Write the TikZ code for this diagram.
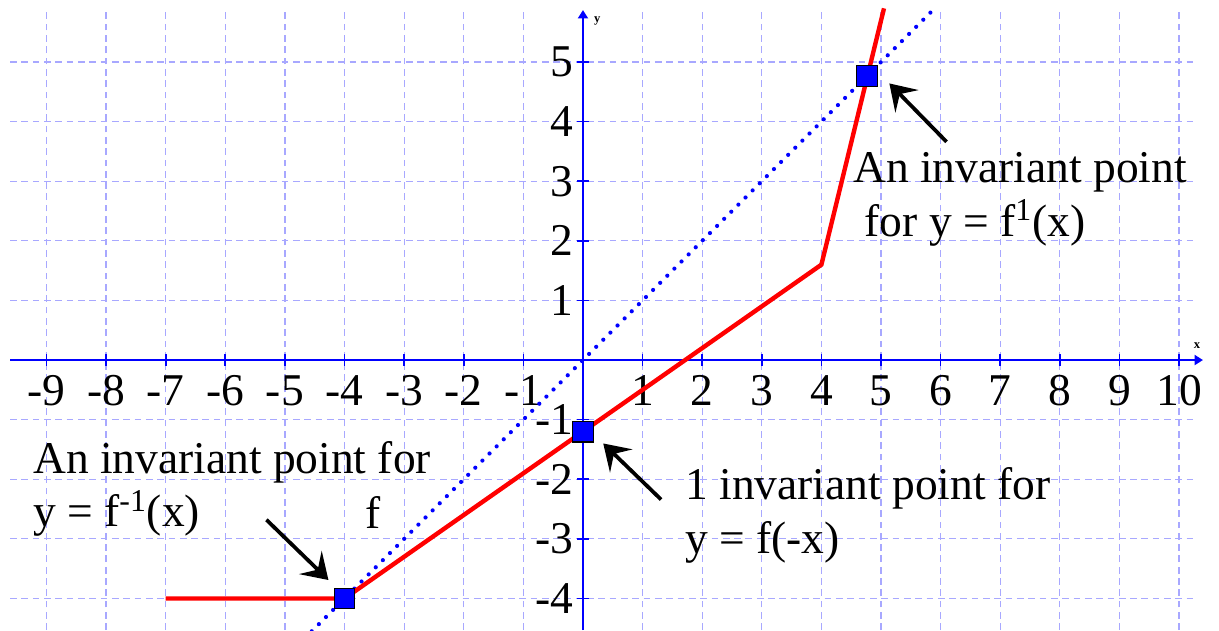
\documentclass[tikz,border=0pt]{standalone}
\usepackage{fontspec}
\setmainfont{Liberation Serif}
\usetikzlibrary{arrows.meta, positioning, calc}
\definecolor{gridblue}{RGB}{168,168,255}

\begin{document}
\begin{tikzpicture}[>=Stealth,
  gridline/.style={draw=gridblue, line width=0.6pt, dash pattern=on 3.2pt off 2.2pt},
  axis/.style={blue, line width=0.8pt, -{Triangle[length=0.14cm, width=0.17cm]}},
  tickmark/.style={blue, line width=0.8pt},
  graph/.style={red, line width=2.1pt},
  mirror/.style={blue, line width=2pt, line cap=round, dash pattern=on 0pt off 4.8pt},
  invpt/.style={draw=black, fill=blue, rectangle, minimum size=0.35cm, inner sep=0pt, line width=0.5pt},
  pointer/.style={line width=1.8pt, -{Stealth[length=0.42cm, width=0.54cm, inset=0.17cm]}},
  numlbl/.style={font=\fontsize{21.7}{25.4}\selectfont, inner sep=0pt},
  txt/.style={font=\fontsize{21.7}{25.4}\selectfont, inner sep=0pt, align=left, anchor=base west},
  axlbl/.style={font=\fontsize{6}{7}\selectfont\bfseries, inner sep=0pt}]

  \useasboundingbox (-9.78,-4.53) rectangle (10.67,6.04);

  \foreach \x in {-9,...,10}
    \draw[gridline] (\x,-4.53) -- (\x,5.87);
  \foreach \y in {-4,...,5}
    \draw[gridline] (-9.61,\y) -- (10.3,\y);

  \coordinate (xs) at (-9.61,0);
  \coordinate (xe) at (10.4,0);
  \coordinate (ys) at (0,-4.53);
  \coordinate (ye) at (0,5.87);
  \draw[axis] (xs) -- (xe);
  \draw[axis] (ys) -- (ye);
  \node[axlbl] (xname) at (10.3,0.25) {x};
  \node[axlbl] (yname) at (0.24,5.68) {y};

  \foreach \x in {-9,...,10}{
    \ifnum\x=0\else
      \draw[tickmark] (\x,-0.1) -- (\x,0.1);
      \node[numlbl, anchor=base] (xl\x) at (\x,-0.755) {\x};
    \fi}
  \foreach \y in {-4,...,5}{
    \ifnum\y=0\else
      \draw[tickmark] (-0.1,\y) -- (0.1,\y);
      \node[numlbl, anchor=east] (yl\y) at (-0.15,\y) {\y};
    \fi}

  \draw[mirror] (-4.55,-4.55) -- (5.88,5.88);
  \draw[graph] (-7,-4) -- (-4,-4) -- (4,1.6) -- (5.05,5.9);

  \node[invpt] (pa) at (4.77,4.77) {};
  \node[invpt] (pb) at (0,-1.2) {};
  \node[invpt] (pc) at (-4,-4) {};

  \coordinate (ta) at (6.10,3.66);
  \coordinate (ha) at (5.14,4.64);
  \coordinate (tb) at (1.31,-2.34);
  \coordinate (hb) at (0.34,-1.40);
  \coordinate (tc) at (-5.31,-2.68);
  \coordinate (hc) at (-4.27,-3.69);
  \draw[pointer] (ta) -- (ha);
  \draw[pointer] (tb) -- (hb);
  \draw[pointer] (tc) -- (hc);

  \node[txt] (inva) at (4.53,2.08) {An invariant point\\\ for y = f\textsuperscript{1}(x)};
  \node[txt] (invb) at (1.71,-3.24) {1 invariant point for\\y = f(-x)};
  \node[txt] (invc) at (-9.23,-2.80) {An invariant point for\\y = f\textsuperscript{-1}(x)};
  \node[txt] (fname) at (-3.66,-2.82) {f};
\end{tikzpicture}
\end{document}
